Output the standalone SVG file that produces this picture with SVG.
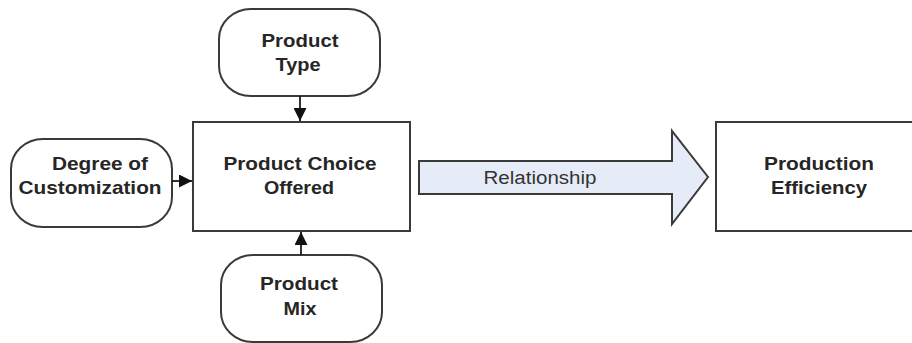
<svg xmlns="http://www.w3.org/2000/svg" width="912" height="343" viewBox="0 0 912 343">
  <style>
    .shape { fill: #ffffff; stroke: #3a3a3a; stroke-width: 2; }
    .label { font-family: "Liberation Sans", Arial, sans-serif; font-size: 19px; font-weight: bold; fill: #262626; text-anchor: middle; }
    .plain { font-family: "Liberation Sans", Arial, sans-serif; font-size: 18px; fill: #333333; text-anchor: middle; }
    .link { stroke: #1a1a1a; stroke-width: 1.8; fill: none; marker-end: url(#head); }
    .bigarrow { fill: #e6ecf7; stroke: #3a3a3a; stroke-width: 2; stroke-linejoin: miter; }
  </style>
  <defs>
    <!-- solid triangular arrowhead shared by the small connectors -->
    <marker id="head" viewBox="0 0 10 10" refX="10" refY="5" markerWidth="14" markerHeight="13" markerUnits="userSpaceOnUse" orient="auto">
      <path d="M0,0 L10,5 L0,10 Z" fill="#111111"/>
    </marker>
  </defs>
  <rect width="912" height="343" fill="#ffffff"/>

  <g id="product-type">
    <rect class="shape" x="219" y="9" width="161" height="87" rx="32" ry="30"/>
    <text class="label" x="300" y="47" textLength="77" lengthAdjust="spacingAndGlyphs">Product</text>
    <text class="label" x="298" y="71" textLength="45" lengthAdjust="spacingAndGlyphs">Type</text>
  </g>

  <g id="degree-of-customization">
    <rect class="shape" x="11" y="139" width="161" height="88" rx="32" ry="30"/>
    <text class="label" x="100" y="170" textLength="96" lengthAdjust="spacingAndGlyphs">Degree of</text>
    <text class="label" x="90" y="194" textLength="143" lengthAdjust="spacingAndGlyphs">Customization</text>
  </g>

  <g id="product-choice-offered">
    <rect class="shape" x="193" y="122" width="217" height="109"/>
    <text class="label" x="300" y="170" textLength="153" lengthAdjust="spacingAndGlyphs">Product Choice</text>
    <text class="label" x="299" y="194" textLength="70" lengthAdjust="spacingAndGlyphs">Offered</text>
  </g>

  <g id="product-mix">
    <rect class="shape" x="221" y="255" width="161" height="87" rx="32" ry="30"/>
    <text class="label" x="299" y="290" textLength="78" lengthAdjust="spacingAndGlyphs">Product</text>
    <text class="label" x="300" y="315" textLength="33" lengthAdjust="spacingAndGlyphs">Mix</text>
  </g>

  <g id="production-efficiency">
    <rect class="shape" x="716" y="122" width="206" height="109"/>
    <text class="label" x="819" y="170" textLength="110" lengthAdjust="spacingAndGlyphs">Production</text>
    <text class="label" x="819" y="194" textLength="96" lengthAdjust="spacingAndGlyphs">Efficiency</text>
  </g>

  <g id="connectors">
    <line class="link" x1="300" y1="96" x2="300" y2="121"/>
    <line class="link" x1="172" y1="181" x2="192" y2="181"/>
    <line class="link" x1="301" y1="255" x2="301" y2="232"/>
    <g id="relationship">
      <polygon class="bigarrow" points="419,161 672,161 672,131 708,177 672,224 672,194 419,194"/>
      <text class="plain" x="540" y="184" textLength="113" lengthAdjust="spacingAndGlyphs">Relationship</text>
    </g>
  </g>
</svg>
